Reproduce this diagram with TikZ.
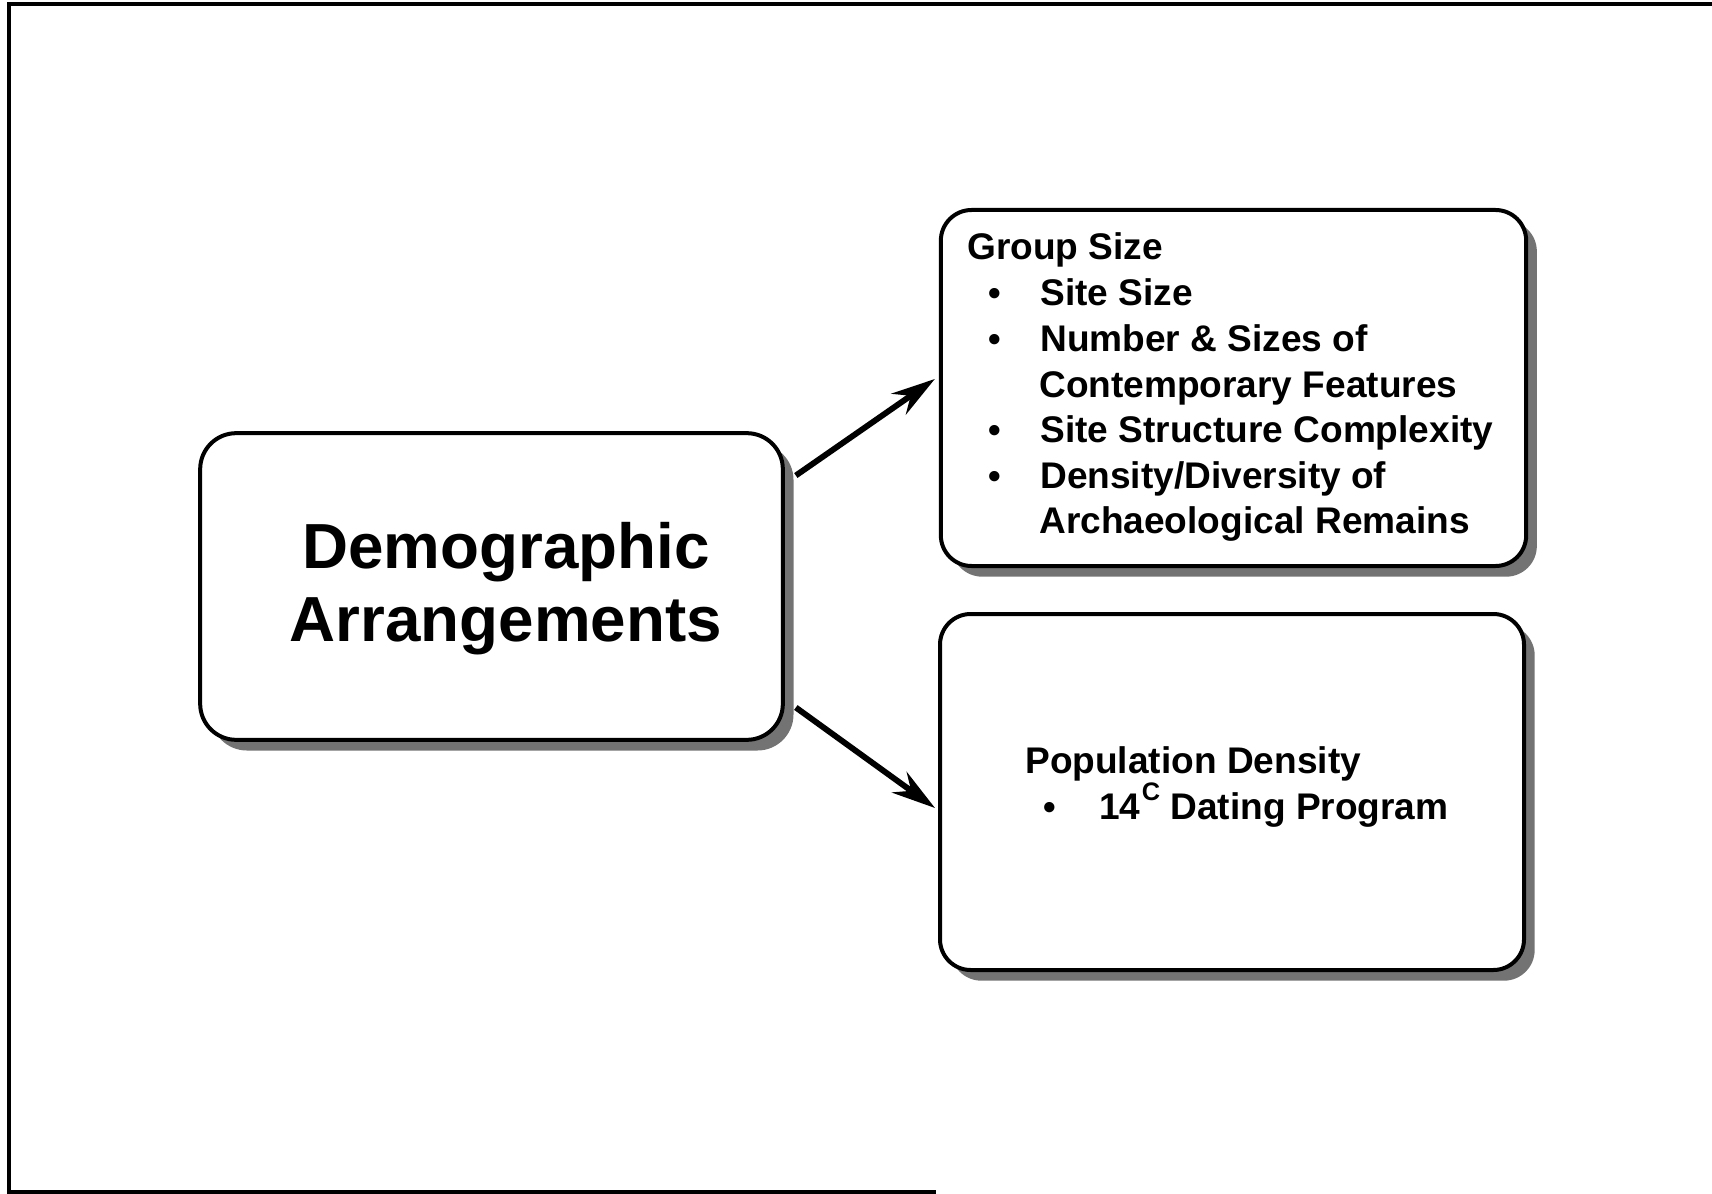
\documentclass[tikz,border=0pt]{standalone}
\usepackage{fontspec}
\setmainfont{Liberation Sans}
\usetikzlibrary{shadows,arrows.meta,calc}

\begin{document}
\begin{tikzpicture}[x=0.75pt,y=-0.75pt,
  card/.style={draw, line width=3pt, fill=white, inner sep=0pt,
    drop shadow={shadow xshift=8pt, shadow yshift=-8pt, fill=black!55, opacity=1}},
  bigtext/.style={font=\fontsize{47.8pt}{54pt}\selectfont\bfseries, inner sep=0pt, anchor=base},
  listtext/.style={font=\fontsize{27.8pt}{33pt}\selectfont\bfseries, inner sep=0pt, anchor=base west},
  dot/.style={font=\fontsize{27pt}{33pt}\selectfont\bfseries, inner sep=0pt, anchor=base},
  link/.style={line width=4.4pt, -{Stealth[length=33pt, width=19pt, inset=11pt]}},
  frame/.style={line width=2.8pt}
]
\useasboundingbox (0,0) rectangle (1712,1194);

% page frame (top, left and part of the bottom edge)
\draw[frame] (1712,4) -- (9,4) -- (9,1192) -- (936,1192);

% boxes
\node[card, rounded corners=27pt, minimum width=437pt, minimum height=230pt] (demo) at (491.5,586.5) {};
\node[card, rounded corners=23pt, minimum width=439pt, minimum height=267pt] (grp) at (1233.5,388) {};
\node[card, rounded corners=23pt, minimum width=438pt, minimum height=267pt] (pop) at (1232,792) {};

% title in the left box
\node[bigtext] (t1) at (506,568) {Demographic};
\node[bigtext] (t2) at (506,641) {Arrangements};

% group size list
\node[listtext] (g0) at (967,260) {Group Size};
\node[dot] (b1) at (995,306) {•};
\node[listtext] (g1) at (1040,306) {Site Size};
\node[dot] (b2) at (995,352) {•};
\node[listtext] (g2) at (1040,352) {Number \& Sizes of};
\node[listtext] (g3) at (1039,397) {Contemporary Features};
\node[dot] (b3) at (995,442) {•};
\node[listtext] (g4) at (1040,442) {Site Structure Complexity};
\node[dot] (b4) at (995,488) {•};
\node[listtext] (g5) at (1040,488) {Density/Diversity of};
\node[listtext] (g6) at (1039,533) {Archaeological Remains};

% population density list
\node[listtext] (p0) at (1025,773) {Population Density};
\node[dot] (b5) at (1050,819) {•};
\node[listtext] (p1) at (1099,819) {14\kern1pt\raisebox{14pt}{\fontsize{19pt}{19pt}\selectfont C} Dating Program};

% connectors
\coordinate (a1s) at ($(demo.east)+(11,-111)$);
\coordinate (a1e) at ($(grp.west)+(-4,-9)$);
\coordinate (a2s) at ($(demo.east)+(11,121)$);
\coordinate (a2e) at ($(pop.west)+(-3,16)$);
\draw[link] (a1s) -- (a1e);
\draw[link] (a2s) -- (a2e);
\end{tikzpicture}
\end{document}
